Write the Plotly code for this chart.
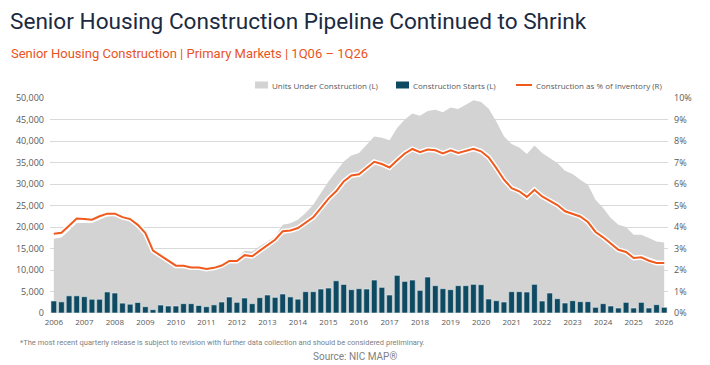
import plotly.graph_objects as go

# ---- data (1Q06 .. 1Q26, quarterly) ----
quarters = [f"{q}Q{str(y)[2:]}" for y in range(2006, 2027) for q in range(1, 5)][:81]

units_under_construction = [
    17280, 17580, 19210, 20930, 20930, 20930, 21700, 22470, 22600, 22000,
    21550, 20300, 18200, 14100, 12930, 11860, 10900, 11300, 10700, 10600,
    10300, 10600, 11200, 12400, 12700, 14500, 14330, 15500, 16650, 17800,
    20550, 20900, 21700, 23250, 25200, 27900, 30600, 32900, 35250, 36650,
    37200, 39100, 41050, 40750, 40200, 43000, 45000, 46400, 45900, 47000,
    47250, 46700, 47800, 47450, 48450, 49500, 49050, 47500, 44550, 41100,
    39300, 38500, 36950, 38950, 37200, 36050, 34900, 33100, 32300, 31000,
    29850, 26350, 24400, 22100, 20550, 20000, 18200, 18200, 17450, 16650,
    16420,
]

construction_starts = [
    2800, 2600, 4000, 4000, 3800, 3200, 3200, 4900, 4650, 2300,
    2050, 2450, 1470, 780, 1860, 1630, 1630, 2170, 2170, 1750,
    1470, 1900, 2560, 3720, 2480, 3490, 2170, 3570, 4190, 3640,
    4420, 3750, 3220, 4960, 4960, 5580, 5810, 7500, 6650, 5430,
    5660, 5580, 7670, 5970, 4190, 8760, 7360, 7670, 5270, 8370,
    6360, 5660, 5430, 6360, 6360, 6670, 6590, 3260, 2870, 2560,
    4960, 4960, 4880, 6670, 2790, 4650, 3330, 2330, 2870, 2640,
    2640, 1320, 2170, 1630, 1160, 2480, 1160, 2480, 1160, 1940,
    1320,
]

pct_of_inventory = [
    3.69, 3.73, 4.06, 4.39, 4.37, 4.34, 4.50, 4.62, 4.62, 4.46,
    4.37, 4.10, 3.72, 2.90, 2.67, 2.43, 2.20, 2.20, 2.12, 2.12,
    2.05, 2.10, 2.21, 2.42, 2.42, 2.69, 2.64, 2.90, 3.15, 3.41,
    3.80, 3.84, 3.95, 4.19, 4.45, 4.88, 5.32, 5.66, 6.12, 6.40,
    6.45, 6.74, 7.03, 6.93, 6.77, 7.10, 7.42, 7.63, 7.48, 7.60,
    7.57, 7.42, 7.57, 7.44, 7.55, 7.64, 7.52, 7.24, 6.74, 6.20,
    5.81, 5.66, 5.40, 5.73, 5.42, 5.20, 5.02, 4.73, 4.62, 4.49,
    4.23, 3.77, 3.52, 3.21, 2.94, 2.84, 2.56, 2.59, 2.43, 2.33,
    2.33,
]

year_labels = [str(y) for y in range(2006, 2027)]
series_names = ["Units Under Construction (L)", "Construction Starts (L)",
                "Construction as % of Inventory (R)"]

x_idx = list(range(len(quarters)))
year_ticks = [i * 4 for i in range(len(year_labels))]

GRAY = "#D3D3D3"
NAVY = "#0F4A63"
ORANGE = "#F05A1E"
TXT = "#595959"

# plot-area pixel geometry helpers
L, R, T, B = 50, 668, 98, 313
W, H = R - L, B - T
def px(x):
    return (x - L) / W
def py(y):
    return (B - y) / H

fig = go.Figure()

fig.add_trace(go.Scatter(
    x=x_idx, y=units_under_construction, mode="none", fill="tozeroy",
    fillcolor=GRAY, name=series_names[0],
    xaxis="x", yaxis="y", hoverinfo="skip",
))
fig.add_trace(go.Bar(
    x=x_idx, y=construction_starts, name=series_names[1],
    marker=dict(color=NAVY, line=dict(color="#E6ECEF", width=0.6)),
    xaxis="x", yaxis="y3",
))
fig.add_trace(go.Scatter(
    x=x_idx, y=pct_of_inventory, mode="lines",
    line=dict(color="white", width=5), showlegend=False,
    xaxis="x", yaxis="y2", hoverinfo="skip",
))
fig.add_trace(go.Scatter(
    x=x_idx, y=pct_of_inventory, mode="lines",
    line=dict(color=ORANGE, width=2), name=series_names[2],
    xaxis="x", yaxis="y2",
))

fig.update_layout(
    width=710, height=365,
    margin=dict(l=L, r=710 - R, t=T, b=365 - B),
    paper_bgcolor="white", plot_bgcolor="white",
    barmode="overlay", bargap=0.25,
    font=dict(family="Open Sans", color=TXT),
    showlegend=False,
    xaxis=dict(
        range=[-0.5, 80.5], tickmode="array", tickvals=year_ticks,
        ticktext=year_labels, showgrid=False, zeroline=False,
        showline=False, ticks="", tickfont=dict(size=8, color=TXT),
        ticklabelstandoff=3,
    ),
    yaxis=dict(
        range=[0, 50000], dtick=5000, tickformat=",", showgrid=True,
        gridcolor="#D9D9D9", gridwidth=1, zeroline=False, showline=False,
        ticks="", tickfont=dict(size=9, color=TXT), ticklabelstandoff=5,
    ),
    yaxis2=dict(
        range=[0, 10], dtick=1, ticksuffix="%", overlaying="y", side="right",
        showgrid=False, zeroline=False, showline=False, ticks="",
        tickfont=dict(size=9, color=TXT), ticklabelstandoff=5,
    ),
    yaxis3=dict(range=[0, 50000], overlaying="y", visible=False),
)

# custom legend (symbols + text) matching the reference layout
LEG_Y = 85
shapes = [
    dict(type="rect", x0=px(255), x1=px(268), y0=py(LEG_Y + 3.5), y1=py(LEG_Y - 3.5),
         fillcolor=GRAY, line=dict(width=0)),
    dict(type="rect", x0=px(396), x1=px(409), y0=py(LEG_Y + 3.5), y1=py(LEG_Y - 3.5),
         fillcolor=NAVY, line=dict(width=0)),
    dict(type="line", x0=px(516), x1=px(532), y0=py(LEG_Y), y1=py(LEG_Y),
         line=dict(color=ORANGE, width=2)),
]
for s in shapes:
    s.update(xref="paper", yref="paper")

annotations = [
    dict(text="Senior Housing Construction Pipeline Continued to Shrink",
         x=px(8), y=py(22), xanchor="left", yanchor="middle",
         font=dict(family="Roboto", size=22.6, color="#1B2A41")),
    dict(text="Senior Housing Construction | Primary Markets | 1Q06 \u2013 1Q26",
         x=px(9), y=py(53), xanchor="left", yanchor="middle",
         font=dict(family="Roboto", size=13, color="#E8541E")),
    dict(text=series_names[0], x=px(270), y=py(LEG_Y), xanchor="left", yanchor="middle",
         font=dict(family="Open Sans", size=8, color=TXT)),
    dict(text=series_names[1], x=px(411), y=py(LEG_Y), xanchor="left", yanchor="middle",
         font=dict(family="Open Sans", size=8, color=TXT)),
    dict(text=series_names[2], x=px(534), y=py(LEG_Y), xanchor="left", yanchor="middle",
         font=dict(family="Open Sans", size=8, color=TXT)),
    dict(text="*The most recent quarterly release is subject to revision with further data collection and should be considered preliminary.",
         x=px(18), y=py(342), xanchor="left", yanchor="middle",
         font=dict(family="Roboto", size=7.5, color="#7F7F7F")),
    dict(text="Source: NIC MAP\u00ae",
         x=px(355), y=py(356), xanchor="center", yanchor="middle",
         font=dict(family="Roboto", size=10, color="#7F7F7F")),
]
for a in annotations:
    a.update(xref="paper", yref="paper", showarrow=False)
fig.update_layout(annotations=annotations, shapes=shapes)

fig.write_html("out.html")
